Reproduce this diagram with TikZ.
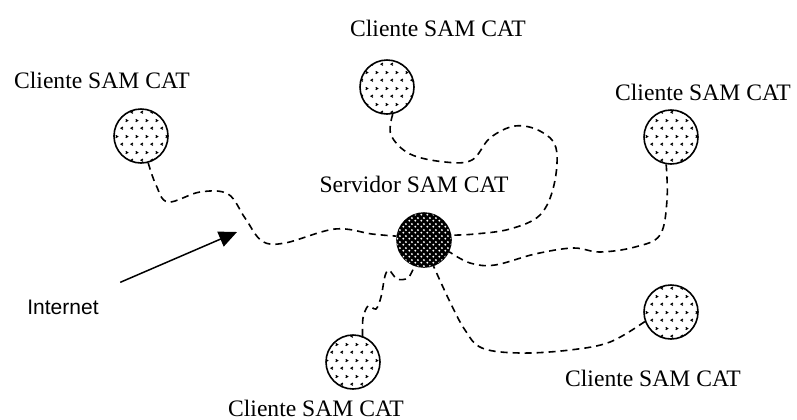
\documentclass[tikz,border=0pt]{standalone}
\usepackage{fontspec}
\setmainfont{Liberation Serif}
\newfontfamily\inetfont{Liberation Sans}
\usetikzlibrary{patterns,arrows.meta}

% fill of the client hosts: little < and > marks
\pgfdeclarepatternformonly{chevrons}{\pgfqpoint{0pt}{0pt}}{\pgfqpoint{5pt}{8pt}}{\pgfqpoint{5pt}{8pt}}{
  \pgfsetlinewidth{0.6pt}
  \pgfpathmoveto{\pgfqpoint{1.6pt}{2.6pt}}
  \pgfpathlineto{\pgfqpoint{0.6pt}{2pt}}
  \pgfpathlineto{\pgfqpoint{1.6pt}{1.4pt}}
  \pgfpathmoveto{\pgfqpoint{3.1pt}{6.6pt}}
  \pgfpathlineto{\pgfqpoint{4.1pt}{6pt}}
  \pgfpathlineto{\pgfqpoint{3.1pt}{5.4pt}}
  \pgfusepath{stroke}
}
% fill of the server: light dots on black
\pgfdeclarepatternformonly{srvdots}{\pgfqpoint{0pt}{0pt}}{\pgfqpoint{3pt}{3pt}}{\pgfqpoint{3pt}{3pt}}{
  \pgfpathcircle{\pgfqpoint{0.75pt}{0.75pt}}{0.6pt}
  \pgfpathcircle{\pgfqpoint{2.25pt}{2.25pt}}{0.6pt}
  \pgfusepath{fill}
}

\begin{document}
\begin{tikzpicture}[x=0.5pt, y=-0.5pt,
    client/.style={circle, draw, line width=0.8pt, minimum size=27pt, inner sep=0pt, pattern=chevrons},
    server/.style={circle, draw, line width=0.8pt, minimum size=27pt, inner sep=0pt, fill=black,
      postaction={pattern=srvdots, pattern color=white}},
    link/.style={line width=0.8pt, dash pattern=on 3.5pt off 2.5pt},
    lbl/.style={font=\fontsize{11.8}{14}\selectfont, inner sep=1pt}]

    \useasboundingbox (0,0) rectangle (797,419);

    % Hosts
    \node[server] (srv) at (424,240) {};
    \node[client] (c1) at (141,136) {};
    \node[client] (c2) at (387,87) {};
    \node[client] (c3) at (671,137) {};
    \node[client] (c4) at (671,312) {};
    \node[client] (c5) at (353,362) {};

    % Labels
    \node[lbl] (srvlbl) at (414,184) {Servidor SAM CAT};
    \node[lbl] (t1) at (102,80) {Cliente SAM CAT};
    \node[lbl] (t2) at (438,28) {Cliente SAM CAT};
    \node[lbl] (t3) at (703,92) {Cliente SAM CAT};
    \node[lbl] (t4) at (653,378) {Cliente SAM CAT};
    \node[lbl] (t5) at (316,408) {Cliente SAM CAT};
    \node[font=\inetfont\fontsize{10.5}{12}\selectfont] (inet) at (63,307) {Internet};

    % Internet links
    \draw[link] plot[smooth, tension=0.6] coordinates {(c1.-75) (156,185) (168,202) (200,192) (228,194)
      (245,218) (262,241) (285,243) (335,229) (372,234) (srv.172)};
    \draw[link] plot[smooth, tension=0.6] coordinates {(c2.-78) (391,135) (410,154) (445,162) (472,160)
      (490,138) (515,126) (540,131) (556,148) (554,185) (540,215) (510,229) (475,234) (srv.10)};
    \draw[link] plot[smooth, tension=0.6] coordinates {(c3.-100) (667,200) (660,235) (635,247) (600,252)
      (573,248) (535,254) (495,265) (470,263) (srv.-25)};
    \draw[link] plot[smooth, tension=0.6] coordinates {(c4.200) (610,342) (570,350) (520,353) (482,348)
      (465,330) (450,302) (srv.-70)};
    \draw[link] plot[smooth, tension=0.5] coordinates {(c5.70) (363,318) (368,306) (376,309) (381,297)
      (385,276) (389,270) (397,279) (408,278) (srv.-110)};

    % Pointer
    \coordinate (tip) at (237,232);
    \draw[line width=0.75pt, -{Triangle[length=9pt,width=8pt]}, shorten <=13pt] (inet) -- (tip);

\end{tikzpicture}
\end{document}
